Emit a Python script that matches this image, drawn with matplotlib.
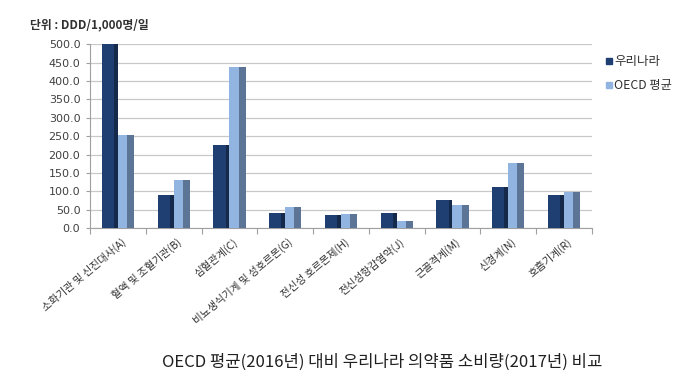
import numpy as np
import matplotlib
matplotlib.use('Agg')
import matplotlib.pyplot as plt

plt.rcParams['font.family'] = ['Noto Sans CJK KR', 'DejaVu Sans']

# data
categories = ['소화기관 및 신진대사(A)', '혈액 및 조혈기관(B)', '심혈관계(C)',
              '비뇨생식기계 및 성호르몬(G)', '전신성 호르몬제(H)', '전신성항감염약(J)',
              '근골격계(M)', '신경계(N)', '호흡기계(R)']
korea = [500.0, 90.0, 226.0, 42.0, 36.0, 40.0, 76.0, 112.0, 90.0]
oecd = [252.0, 131.0, 438.0, 57.0, 38.0, 20.0, 63.0, 178.0, 97.0]
yticks = np.arange(0, 501, 50)

fig = plt.figure(figsize=[6.98, 3.84], dpi=100)
ax = fig.add_axes([0.129, 0.406, 0.719, 0.479])

x = np.arange(len(categories))
w = 0.29

# dark series (front face + darker side strip)
ax.bar(x - w/2, korea, w, color='#15294B', linewidth=0, zorder=3)
ax.bar(x - w/2 - w*0.12, korea, w*0.76, color='#1F3F72', linewidth=0, zorder=4)
# light series: side face + front face to fake the 3D look
ax.bar(x + w/2, oecd, w, color='#5C7597', linewidth=0, zorder=3)
ax.bar(x + w/2 - w*0.22, oecd, w*0.56, color='#92B4E0', linewidth=0, zorder=4)

ax.set_xlim(-0.5, len(categories) - 0.5)
ax.set_ylim(0, 500)
ax.set_yticks(yticks)
ax.set_yticklabels(['%.1f' % v for v in yticks], fontsize=8, color='#404040',
                   family=['DejaVu Sans'])
ax.yaxis.grid(True, color='#C8C8C8', linewidth=0.9, zorder=0)
ax.set_axisbelow(True)
ax.tick_params(axis='y', length=3, color='#A0A0A0', pad=4)

ax.set_xticks(np.arange(len(categories) + 1) - 0.5)
ax.set_xticklabels([])
ax.tick_params(axis='x', length=4, color='#A0A0A0')
ax.set_xticks(x + 0.05, minor=True)
ax.set_xticklabels(categories, minor=True, rotation=40, ha='right',
                   rotation_mode='anchor', fontsize=7.6, color='#303030')
ax.tick_params(axis='x', which='minor', length=0, pad=6)

for s in ['top', 'right']:
    ax.spines[s].set_visible(False)
for s in ['left', 'bottom']:
    ax.spines[s].set_color('#A0A0A0')

fig.text(0.043, 0.935, '단위 : DDD/1,000명/일', fontsize=8.5, fontweight='bold',
         color='#303030', va='center')

# legend
fig.patches.append(plt.Rectangle((606/698, 1-64/384), 6/698, 6/384, color='#1F3F72',
                                 transform=fig.transFigure, figure=fig))
fig.patches.append(plt.Rectangle((606/698, 1-88/384), 6/698, 6/384, color='#92B4E0',
                                 transform=fig.transFigure, figure=fig))
fig.text(614/698, 1-61/384, '우리나라', fontsize=9, color='#303030', va='center')
fig.text(614/698, 1-85/384, 'OECD 평균', fontsize=8.8, color='#303030', va='center')

fig.text(0.548, 1-362/384, 'OECD 평균(2016년) 대비 우리나라 의약품 소비량(2017년) 비교',
         fontsize=12, color='#202020', ha='center', va='center')

fig.savefig('out.png', dpi=100, facecolor='white')
